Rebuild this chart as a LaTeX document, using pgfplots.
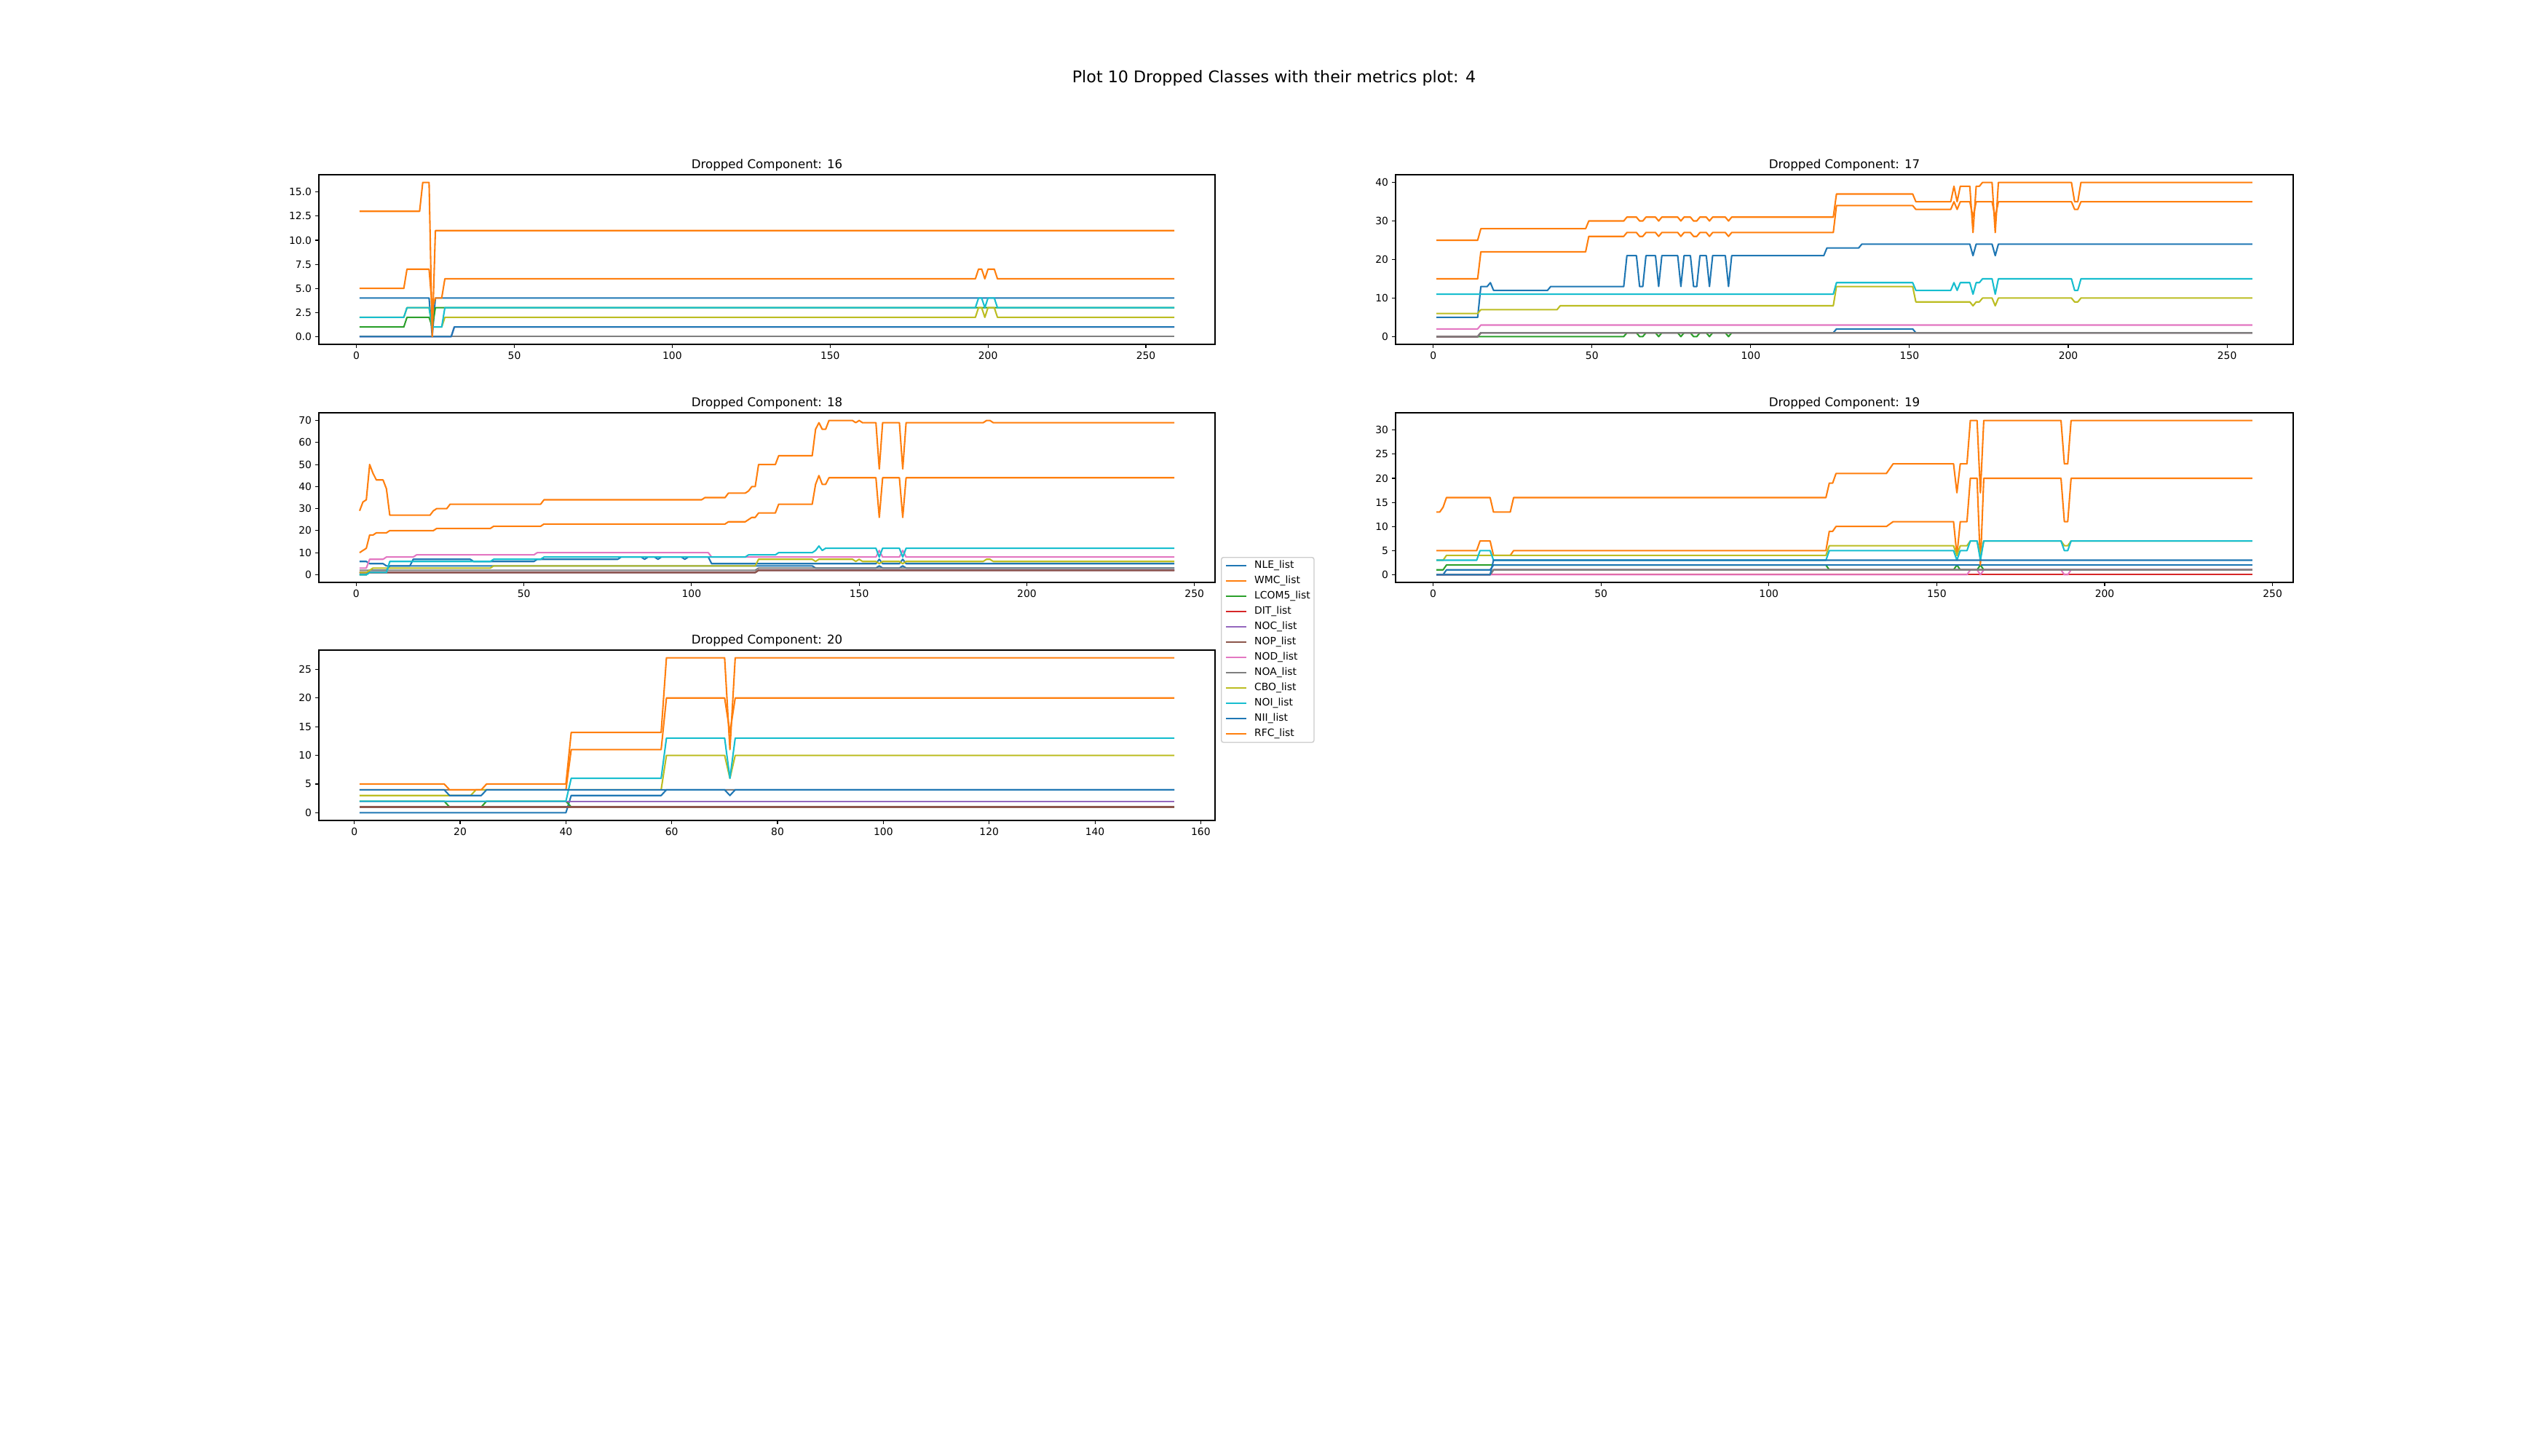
\documentclass[border=0pt]{standalone}
\usepackage{fontspec}
\setmainfont{DejaVu Sans}
\usepackage{pgfplots}
\pgfplotsset{compat=1.18}
\definecolor{c0}{HTML}{1F77B4}
\definecolor{c1}{HTML}{FF7F0E}
\definecolor{c2}{HTML}{2CA02C}
\definecolor{c3}{HTML}{D62728}
\definecolor{c4}{HTML}{9467BD}
\definecolor{c5}{HTML}{8C564B}
\definecolor{c6}{HTML}{E377C2}
\definecolor{c7}{HTML}{7F7F7F}
\definecolor{c8}{HTML}{BCBD22}
\definecolor{c9}{HTML}{17BECF}
\pgfplotsset{
  mpl/.style={scale only axis, width=886.32bp, height=167.76bp, anchor=south west,
    enlargelimits=false,
    axis line style={line width=0.8bp, black},
    tick pos=left, tick align=outside, major tick length=3.5bp,
    every tick/.style={black, line width=0.8bp},
    tick label style={font=\fontsize{10bp}{12bp}\selectfont},
    xticklabel style={inner sep=0pt, anchor=north, yshift=-3.5bp},
    yticklabel style={inner sep=0pt, anchor=east, xshift=-3.5bp},
    title style={font=\fontsize{12bp}{14bp}\selectfont, at={(0.5,1)}, anchor=base},
    /pgf/number format/assume math mode=true,
    every axis plot/.append style={line width=1.5bp, line join=round},
  },
}
\begin{document}
\begin{tikzpicture}
\path[use as bounding box, fill=white] (0bp,0bp) rectangle (2520bp,1440bp);
\node[font=\fontsize{16bp}{19bp}\selectfont] at (1260bp,1362.96bp) {Plot 10 Dropped Classes with their metrics plot: 4};

% ---------------- Plot 16
\begin{axis}[mpl, at={(315.36bp,1099.44bp)}, title={Dropped Component: 16},
  xmin=-11.9, xmax=271.9, ymin=-0.8, ymax=16.8,
  xtick={0,50,100,150,200,250}, ytick={0,2.5,5,7.5,10,12.5,15},
  yticklabel style={/pgf/number format/.cd, fixed, fixed zerofill, precision=1}]
\addplot[c0] coordinates {(1,4)(23,4)(24,0)(25,4)(259,4)};
\addplot[c1] coordinates {(1,5)(15,5)(16,7)(23,7)(24,3)(25,4)(27,4)(28,6)(196,6)(197,7)(198,7)(199,6)(200,7)(202,7)(203,6)(259,6)};
\addplot[c2] coordinates {(1,1)(15,1)(16,2)(23,2)(24,1)(25,3)(259,3)};
\addplot[c3] coordinates {(1,0)(259,0)};
\addplot[c4] coordinates {(1,0)(30,0)(31,1)(259,1)};
\addplot[c5] coordinates {(1,0)(259,0)};
\addplot[c6] coordinates {(1,0)(259,0)};
\addplot[c7] coordinates {(1,0)(259,0)};
\addplot[c8] coordinates {(1,2)(15,2)(16,3)(23,3)(24,1)(27,1)(28,2)(196,2)(197,3)(198,3)(199,2)(200,3)(202,3)(203,2)(259,2)};
\addplot[c9] coordinates {(1,2)(15,2)(16,3)(23,3)(24,1)(27,1)(28,3)(196,3)(197,4)(198,4)(199,3)(200,4)(202,4)(203,3)(259,3)};
\addplot[c0] coordinates {(1,0)(30,0)(31,1)(259,1)};
\addplot[c1] coordinates {(1,13)(20,13)(21,16)(23,16)(24,0)(25,11)(259,11)};
\end{axis}

% ---------------- Plot 17
\begin{axis}[mpl, at={(1380.24bp,1099.44bp)}, width=887.76bp, title={Dropped Component: 17},
  xmin=-11.85, xmax=270.85, ymin=-2, ymax=42,
  xtick={0,50,100,150,200,250}, ytick={0,10,20,30,40}]
\addplot[c0] coordinates {(1,5)(14,5)(15,13)(17,13)(18,14)(19,12)(36,12)(37,13)(60,13)(61,21)(64,21)(65,13)(66,13)(67,21)(70,21)(71,13)(72,21)(77,21)(78,13)(79,21)(81,21)(82,13)(83,13)(84,21)(86,21)(87,13)(88,21)(92,21)(93,13)(94,21)(123,21)(124,23)(134,23)(135,24)(169,24)(170,21)(171,24)(176,24)(177,21)(178,24)(258,24)};
\addplot[c0] coordinates {(1,0)(14,0)(15,1)(126,1)(127,2)(151,2)(152,1)(258,1)};
\addplot[c1] coordinates {(1,15)(14,15)(15,22)(48,22)(49,26)(60,26)(61,27)(64,27)(65,26)(66,26)(67,27)(70,27)(71,26)(72,27)(77,27)(78,26)(79,27)(81,27)(82,26)(83,26)(84,27)(86,27)(87,26)(88,27)(92,27)(93,26)(94,27)(126,27)(127,34)(151,34)(152,33)(163,33)(164,35)(165,33)(166,35)(169,35)(170,31)(171,35)(176,35)(177,31)(178,35)(201,35)(202,33)(203,33)(204,35)(258,35)};
\addplot[c2] coordinates {(1,0)(60,0)(61,1)(64,1)(65,0)(66,0)(67,1)(70,1)(71,0)(72,1)(77,1)(78,0)(79,1)(81,1)(82,0)(83,0)(84,1)(86,1)(87,0)(88,1)(92,1)(93,0)(94,1)(258,1)};
\addplot[c3] coordinates {(1,0)(14,0)(15,1)(258,1)};
\addplot[c4] coordinates {(1,0)(14,0)(15,1)(258,1)};
\addplot[c5] coordinates {(1,0)(14,0)(15,1)(258,1)};
\addplot[c6] coordinates {(1,2)(14,2)(15,3)(258,3)};
\addplot[c7] coordinates {(1,0)(14,0)(15,1)(258,1)};
\addplot[c8] coordinates {(1,6)(14,6)(15,7)(39,7)(40,8)(126,8)(127,13)(151,13)(152,9)(169,9)(170,8)(171,9)(172,9)(173,10)(176,10)(177,8)(178,10)(201,10)(202,9)(203,9)(204,10)(258,10)};
\addplot[c9] coordinates {(1,11)(126,11)(127,14)(151,14)(152,12)(163,12)(164,14)(165,12)(166,14)(169,14)(170,11)(171,14)(172,14)(173,15)(176,15)(177,11)(178,15)(201,15)(202,12)(203,12)(204,15)(258,15)};
\addplot[c1] coordinates {(1,25)(14,25)(15,28)(48,28)(49,30)(60,30)(61,31)(64,31)(65,30)(66,30)(67,31)(70,31)(71,30)(72,31)(77,31)(78,30)(79,31)(81,31)(82,30)(83,30)(84,31)(86,31)(87,30)(88,31)(92,31)(93,30)(94,31)(126,31)(127,37)(151,37)(152,35)(163,35)(164,39)(165,35)(166,39)(169,39)(170,27)(171,39)(172,39)(173,40)(176,40)(177,27)(178,40)(201,40)(202,35)(203,35)(204,40)(258,40)};
\end{axis}

% ---------------- Plot 18 (with legend)
\begin{axis}[mpl, at={(315.36bp,864bp)}, title={Dropped Component: 18},
  xmin=-11.15, xmax=256.15, ymin=-3.5, ymax=73.5,
  xtick={0,50,100,150,200,250}, ytick={0,10,20,30,40,50,60,70},
  legend cell align=left,
  legend image code/.code={\draw[#1, line width=1.5bp] (0bp,0bp) -- (20bp,0bp); \path (27.5bp,0bp);},
  legend style={at={(1.0065,0.150)}, anchor=north west, draw=black!20, line width=1bp,
    rounded corners=2bp, fill=white, font=\fontsize{10bp}{12bp}\selectfont,
    inner xsep=3.75bp, inner ysep=3bp, row sep=4.95bp,
    nodes={inner sep=0pt, text height=7.6bp, text depth=2.6bp}}]
\addlegendimage{c0}\addlegendentry{NLE\_list}
\addlegendimage{c1}\addlegendentry{WMC\_list}
\addlegendimage{c2}\addlegendentry{LCOM5\_list}
\addlegendimage{c3}\addlegendentry{DIT\_list}
\addlegendimage{c4}\addlegendentry{NOC\_list}
\addlegendimage{c5}\addlegendentry{NOP\_list}
\addlegendimage{c6}\addlegendentry{NOD\_list}
\addlegendimage{c7}\addlegendentry{NOA\_list}
\addlegendimage{c8}\addlegendentry{CBO\_list}
\addlegendimage{c9}\addlegendentry{NOI\_list}
\addlegendimage{c0}\addlegendentry{NII\_list}
\addlegendimage{c1}\addlegendentry{RFC\_list}
\addplot[c0, forget plot] coordinates {(1,0)(3,0)(4,2)(9,2)(10,4)(136,4)(137,3)(155,3)(156,4)(157,3)(162,3)(163,4)(164,3)(244,3)};
\addplot[c0, forget plot] coordinates {(1,6)(3,6)(4,5)(8,5)(9,4)(16,4)(17,7)(34,7)(35,6)(53,6)(54,7)(78,7)(79,8)(85,8)(86,7)(87,8)(89,8)(90,7)(91,8)(97,8)(98,7)(99,8)(105,8)(106,5)(155,5)(156,7)(157,5)(162,5)(163,7)(164,5)(244,5)};
\addplot[c1, forget plot] coordinates {(1,10)(2,11)(3,12)(4,18)(5,18)(6,19)(9,19)(10,20)(23,20)(24,21)(40,21)(41,22)(55,22)(56,23)(110,23)(111,24)(116,24)(117,25)(118,26)(119,26)(120,28)(125,28)(126,32)(136,32)(137,41)(138,45)(139,41)(140,41)(141,44)(155,44)(156,26)(157,44)(162,44)(163,26)(164,44)(244,44)};
\addplot[c2, forget plot] coordinates {(1,0)(3,0)(4,1)(119,1)(120,2)(244,2)};
\addplot[c3, forget plot] coordinates {(1,1)(119,1)(120,2)(244,2)};
\addplot[c4, forget plot] coordinates {(1,1)(119,1)(120,2)(244,2)};
\addplot[c5, forget plot] coordinates {(1,1)(119,1)(120,2)(244,2)};
\addplot[c6, forget plot] coordinates {(1,3)(3,3)(4,7)(8,7)(9,8)(17,8)(18,9)(53,9)(54,10)(105,10)(106,8)(155,8)(156,11)(157,8)(162,8)(163,11)(164,8)(244,8)};
\addplot[c7, forget plot] coordinates {(1,2)(119,2)(120,3)(244,3)};
\addplot[c8, forget plot] coordinates {(1,1)(3,1)(4,2)(5,3)(40,3)(41,4)(119,4)(120,7)(136,7)(137,6)(138,7)(148,7)(149,6)(150,7)(151,6)(155,6)(156,5)(157,6)(162,6)(163,5)(164,6)(187,6)(188,7)(189,7)(190,6)(244,6)};
\addplot[c9, forget plot] coordinates {(1,0)(3,0)(4,1)(9,1)(10,6)(40,6)(41,7)(55,7)(56,8)(116,8)(117,9)(125,9)(126,10)(136,10)(137,11)(138,13)(139,11)(140,12)(155,12)(156,8)(157,12)(162,12)(163,8)(164,12)(244,12)};
\addplot[c1, forget plot] coordinates {(1,29)(2,33)(3,34)(4,50)(5,46)(6,43)(8,43)(9,39)(10,27)(22,27)(23,29)(24,30)(27,30)(28,32)(55,32)(56,34)(103,34)(104,35)(110,35)(111,37)(116,37)(117,38)(118,40)(119,40)(120,50)(125,50)(126,54)(136,54)(137,66)(138,69)(139,66)(140,66)(141,70)(148,70)(149,69)(150,70)(151,69)(155,69)(156,48)(157,69)(162,69)(163,48)(164,69)(187,69)(188,70)(189,70)(190,69)(244,69)};
\end{axis}

% ---------------- Plot 19
\begin{axis}[mpl, at={(1380.24bp,864bp)}, width=887.76bp, title={Dropped Component: 19},
  xmin=-11.15, xmax=256.15, ymin=-1.6, ymax=33.6,
  xtick={0,50,100,150,200,250}, ytick={0,5,10,15,20,25,30}]
\addplot[c2] coordinates {(1,1)(3,1)(4,2)(117,2)(118,1)(155,1)(156,2)(157,1)(162,1)(163,2)(164,1)(244,1)};
\addplot[c0] coordinates {(1,0)(3,0)(4,1)(17,1)(18,2)(244,2)};
\addplot[c1] coordinates {(1,5)(13,5)(14,7)(17,7)(18,4)(23,4)(24,5)(117,5)(118,9)(119,9)(120,10)(135,10)(137,11)(155,11)(156,4)(157,11)(159,11)(160,20)(162,20)(163,2)(164,20)(187,20)(188,11)(189,11)(190,20)(244,20)};
\addplot[c3] coordinates {(1,0)(244,0)};
\addplot[c4] coordinates {(1,0)(17,0)(18,1)(244,1)};
\addplot[c5] coordinates {(1,0)(17,0)(18,1)(244,1)};
\addplot[c6] coordinates {(1,0)(159,0)(160,1)(162,1)(163,0)(164,1)(187,1)(188,0)(189,0)(190,1)(244,1)};
\addplot[c7] coordinates {(1,0)(17,0)(18,1)(244,1)};
\addplot[c8] coordinates {(1,3)(3,3)(4,4)(117,4)(118,6)(155,6)(156,4)(157,6)(159,6)(160,7)(162,7)(163,4)(164,7)(187,7)(188,6)(189,6)(190,7)(244,7)};
\addplot[c9] coordinates {(1,3)(13,3)(14,5)(17,5)(18,3)(117,3)(118,5)(155,5)(156,3)(157,5)(159,5)(160,7)(162,7)(163,3)(164,7)(187,7)(188,5)(189,5)(190,7)(244,7)};
\addplot[c0] coordinates {(1,0)(17,0)(18,3)(244,3)};
\addplot[c1] coordinates {(1,13)(2,13)(3,14)(4,16)(17,16)(18,13)(23,13)(24,16)(117,16)(118,19)(119,19)(120,21)(135,21)(136,22)(137,23)(155,23)(156,17)(157,23)(159,23)(160,32)(162,32)(163,17)(164,32)(187,32)(188,23)(189,23)(190,32)(244,32)};
\end{axis}

% ---------------- Plot 20
\begin{axis}[mpl, at={(315.36bp,628.56bp)}, height=168.48bp, title={Dropped Component: 20},
  xmin=-6.7, xmax=162.7, ymin=-1.35, ymax=28.35,
  xtick={0,20,40,60,80,100,120,140,160}, ytick={0,5,10,15,20,25}]
\addplot[c0] coordinates {(1,0)(40,0)(41,3)(58,3)(59,4)(155,4)};
\addplot[c1] coordinates {(1,4)(40,4)(41,11)(58,11)(59,20)(70,20)(71,14)(72,20)(155,20)};
\addplot[c2] coordinates {(1,2)(17,2)(18,1)(24,1)(25,2)(40,2)(41,1)(155,1)};
\addplot[c3] coordinates {(1,1)(155,1)};
\addplot[c4] coordinates {(1,2)(155,2)};
\addplot[c5] coordinates {(1,1)(155,1)};
\addplot[c6] coordinates {(1,4)(155,4)};
\addplot[c7] coordinates {(1,4)(155,4)};
\addplot[c8] coordinates {(1,3)(22,3)(23,4)(58,4)(59,10)(70,10)(71,6)(72,10)(155,10)};
\addplot[c9] coordinates {(1,2)(40,2)(41,6)(58,6)(59,13)(70,13)(71,6)(72,13)(155,13)};
\addplot[c0] coordinates {(1,4)(17,4)(18,3)(24,3)(25,4)(70,4)(71,3)(72,4)(155,4)};
\addplot[c1] coordinates {(1,5)(17,5)(18,4)(24,4)(25,5)(40,5)(41,14)(58,14)(59,27)(70,27)(71,11)(72,27)(155,27)};
\end{axis}
\end{tikzpicture}
\end{document}
